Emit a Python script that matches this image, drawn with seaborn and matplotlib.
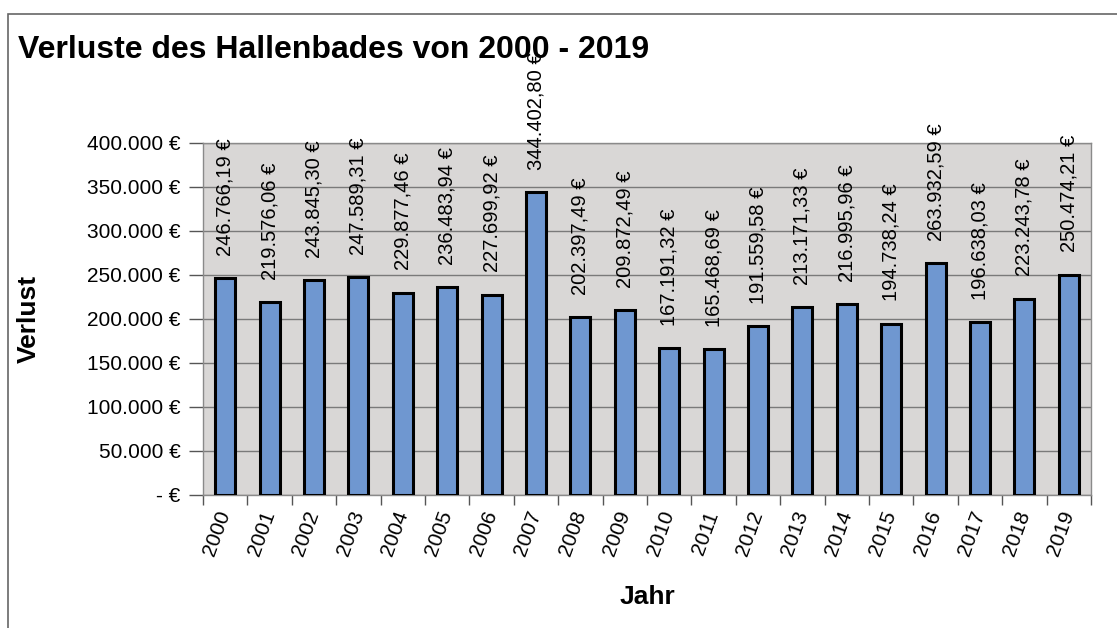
import matplotlib
matplotlib.use("Agg")
import matplotlib.pyplot as plt
import seaborn as sns
import pandas as pd
from matplotlib.ticker import FuncFormatter, FixedLocator
from matplotlib.patches import Rectangle

# Daten: Verluste des Hallenbades pro Jahr
jahre = [str(j) for j in range(2000, 2020)]
verluste = [246766.19, 219576.06, 243845.30, 247589.31, 229877.46,
            236483.94, 227699.92, 344402.80, 202397.49, 209872.49,
            167191.32, 165468.69, 191559.58, 213171.33, 216995.96,
            194738.24, 263932.59, 196638.03, 223243.78, 250474.21]
y_ticks = [0, 50000, 100000, 150000, 200000, 250000, 300000, 350000, 400000]

df = pd.DataFrame({'Jahr': jahre, 'Verlust': verluste})


def euro(v, nachkomma=0):
    if v == 0:
        return '- €'
    s = f"{v:,.{nachkomma}f}"
    s = s.replace(',', 'X').replace('.', ',').replace('X', '.')
    return s + ' €'


sns.set_style('white')
plt.rcParams['font.family'] = ['Liberation Sans', 'DejaVu Sans']
plt.rcParams['text.color'] = 'black'
plt.rcParams['axes.labelcolor'] = 'black'
plt.rcParams['xtick.color'] = 'black'
plt.rcParams['ytick.color'] = 'black'

fig = plt.figure(figsize=(11.17, 6.28), dpi=100)
ax = fig.add_axes([0.1817, 0.2118, 0.795, 0.5605])

sns.barplot(data=df, x='Jahr', y='Verlust', color='#6f97d0', saturation=1,
            edgecolor='black', linewidth=2.2, width=0.45, ax=ax, zorder=3)

ax.set_facecolor('#d9d7d6')
ax.set_ylim(0, 400000)
ax.set_xlim(-0.5, len(jahre) - 0.5)
ax.yaxis.set_major_locator(FixedLocator(y_ticks))
ax.yaxis.set_major_formatter(FuncFormatter(lambda v, p: euro(v)))
ax.grid(axis='y', color='#7a7a7a', linewidth=1, zorder=1)
ax.set_axisbelow(True)
for s in ax.spines.values():
    s.set_color('#8a8a8a')
    s.set_linewidth(1)

ax.tick_params(axis='y', labelsize=15, length=10, width=1, color='#555555', pad=6, left=True)
ax.tick_params(axis='x', which='major', length=0, pad=12)
ax.set_xticks(range(len(jahre)))
ax.set_xticklabels(jahre, rotation=70, fontsize=15, ha='right', va='center',
                   rotation_mode='anchor')
ax.set_xticks([i - 0.5 for i in range(len(jahre) + 1)], minor=True)
ax.tick_params(axis='x', which='minor', length=7, width=1, color='#555555', bottom=True)

# Wertbeschriftungen
for i, v in enumerate(verluste):
    ax.annotate(euro(v, 2), (i, v), xytext=(0, 16), textcoords='offset points',
                rotation=90, ha='center', va='bottom', fontsize=14.5, color='black',
                annotation_clip=False, zorder=4)

ax.set_xlabel('Jahr', fontsize=19, fontweight='bold', va='center')
ax.xaxis.set_label_coords(0.5, -0.29)
ax.set_ylabel('Verlust', fontsize=19, fontweight='bold', va='center')
ax.yaxis.set_label_coords(-0.196, 0.5)

fig.text(0.016, 0.92, 'Verluste des Hallenbades von 2000 - 2019', fontsize=23,
         fontweight='bold', va='center', ha='left', zorder=5)

fig.patches.append(Rectangle((0.007, -0.05), 1.2, 1.028, transform=fig.transFigure,
                             fill=False, edgecolor='#666666', linewidth=1.2))

fig.savefig('out.png', dpi=100)
